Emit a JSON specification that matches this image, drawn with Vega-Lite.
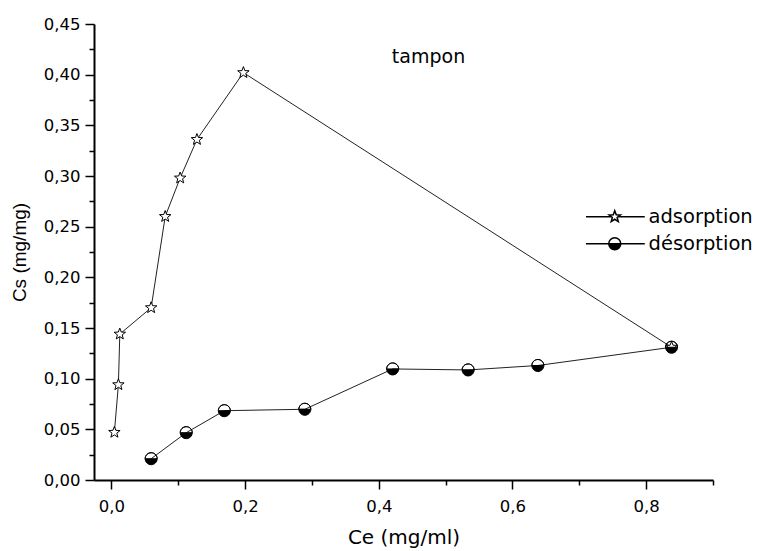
{
  "$schema": "https://vega.github.io/schema/vega-lite/v6.json",
  "width": 619,
  "height": 456,
  "autosize": "none",
  "padding": {"left": 94, "top": 24, "right": 45, "bottom": 71},
  "background": "white",
  "title": {"text": "tampon", "offset": -66, "dx": 25, "baseline": "alphabetic", "font": "DejaVu Sans", "fontSize": 19, "fontWeight": "normal", "color": "black"},
  "data": {
    "values": [
      {"serie": "adsorption", "i": 1, "ce": 0.0045, "cs": 0.047},
      {"serie": "adsorption", "i": 2, "ce": 0.0105, "cs": 0.094},
      {"serie": "adsorption", "i": 3, "ce": 0.0126, "cs": 0.144},
      {"serie": "adsorption", "i": 4, "ce": 0.0595, "cs": 0.170},
      {"serie": "adsorption", "i": 5, "ce": 0.0805, "cs": 0.260},
      {"serie": "adsorption", "i": 6, "ce": 0.1029, "cs": 0.298},
      {"serie": "adsorption", "i": 7, "ce": 0.128, "cs": 0.336},
      {"serie": "adsorption", "i": 8, "ce": 0.1975, "cs": 0.402},
      {"serie": "adsorption", "i": 9, "ce": 0.838, "cs": 0.131},
      {"serie": "désorption", "i": 1, "ce": 0.838, "cs": 0.131},
      {"serie": "désorption", "i": 2, "ce": 0.638, "cs": 0.113},
      {"serie": "désorption", "i": 3, "ce": 0.5337, "cs": 0.1086},
      {"serie": "désorption", "i": 4, "ce": 0.4208, "cs": 0.1096},
      {"serie": "désorption", "i": 5, "ce": 0.2894, "cs": 0.0698},
      {"serie": "désorption", "i": 6, "ce": 0.169, "cs": 0.0684},
      {"serie": "désorption", "i": 7, "ce": 0.112, "cs": 0.0467},
      {"serie": "désorption", "i": 8, "ce": 0.0595, "cs": 0.021}
    ]
  },
  "config": {
    "view": {"stroke": null},
    "axis": {
      "grid": false,
      "domainColor": "black",
      "domainWidth": 2,
      "tickColor": "black",
      "tickWidth": 1.5,
      "labelColor": "black",
      "labelFont": "DejaVu Sans",
      "labelFontSize": 16.5,
      "titleColor": "black",
      "titleFontWeight": "normal",
      "labelOverlap": false,
      "labelFlush": false
    }
  },
  "encoding": {
    "x": {
      "field": "ce",
      "type": "quantitative",
      "scale": {"domain": [-0.026, 0.9], "nice": false, "zero": false},
      "axis": {
        "title": "Ce (mg/ml)",
        "titleFont": "DejaVu Sans",
        "titleFontSize": 20,
        "titlePadding": 13,
        "values": [0, 0.1, 0.2, 0.3, 0.4, 0.5, 0.6, 0.7, 0.8, 0.9],
        "labelExpr": "round(datum.value*10) % 2 == 0 ? replace(format(datum.value, '.1f'), '.', ',') : ''",
        "tickSize": {"condition": {"test": "round(datum.value*10) % 2 == 0", "value": 9}, "value": 5},
        "labelPadding": 9
      }
    },
    "y": {
      "field": "cs",
      "type": "quantitative",
      "scale": {"domain": [0, 0.45], "nice": false},
      "axis": {
        "title": "Cs (mg/mg)",
        "titleFont": "Liberation Sans",
        "titleFontSize": 19,
        "titlePadding": 14,
        "values": [0, 0.025, 0.05, 0.075, 0.1, 0.125, 0.15, 0.175, 0.2, 0.225, 0.25, 0.275, 0.3, 0.325, 0.35, 0.375, 0.4, 0.425, 0.45],
        "labelExpr": "round(datum.value*40) % 2 == 0 ? replace(format(datum.value, '.2f'), '.', ',') : ''",
        "tickSize": {"condition": {"test": "round(datum.value*40) % 2 == 0", "value": 9}, "value": 5},
        "labelPadding": 5
      }
    }
  },
  "layer": [
    {
      "mark": {"type": "line", "stroke": "#222222", "strokeWidth": 1},
      "encoding": {
        "detail": {"field": "serie", "type": "nominal"},
        "order": {"field": "i", "type": "quantitative"}
      }
    },
    {
      "mark": {"type": "point", "filled": true, "stroke": "black", "strokeWidth": 1, "size": 144, "opacity": 1},
      "encoding": {
        "shape": {
          "field": "serie",
          "type": "nominal",
          "scale": {
            "domain": ["adsorption", "désorption"],
            "range": [
              "M0,-1L0.247,-0.34L0.951,-0.309L0.399,0.13L0.588,0.809L0,0.42L-0.588,0.809L-0.399,0.13L-0.951,-0.309L-0.247,-0.34Z",
              "M-1,0A1,1 0 1,1 1,0A1,1 0 1,1 -1,0Z M-1,0L1,0A1,1 0 0,0 -1,0Z"
            ]
          },
          "legend": null
        },
        "fill": {
          "field": "serie",
          "type": "nominal",
          "scale": {"domain": ["adsorption", "désorption"], "range": ["white", "black"]},
          "legend": null
        }
      }
    },
    {
      "transform": [{"filter": "datum.i > 100"}],
      "mark": {"type": "point", "filled": true, "stroke": "black", "strokeWidth": 1, "size": 144, "opacity": 1},
      "encoding": {
        "shape": {
          "field": "serie",
          "type": "nominal",
          "scale": {
            "domain": ["adsorption", "désorption"],
            "range": [
              "M0,-1L0.247,-0.34L0.951,-0.309L0.399,0.13L0.588,0.809L0,0.42L-0.588,0.809L-0.399,0.13L-0.951,-0.309L-0.247,-0.34Z M-4.8,0L-0.56,0 M0.56,0L5,0",
              "M-1,0A1,1 0 1,1 1,0A1,1 0 1,1 -1,0Z M-1,0L1,0A1,1 0 0,0 -1,0Z M-4.8,0L-1,0 M1,0L5,0"
            ]
          },
          "legend": {
            "title": null,
            "orient": "none",
            "legendX": 511,
            "legendY": 183,
            "padding": 0,
            "labelFont": "DejaVu Sans",
            "labelFontSize": 19.5,
            "labelColor": "black",
            "symbolSize": 144,
            "labelOffset": 24,
            "rowPadding": 6
          }
        },
        "fill": {
          "field": "serie",
          "type": "nominal",
          "scale": {"domain": ["adsorption", "désorption"], "range": ["white", "black"]},
          "legend": null
        }
      }
    }
  ],
  "resolve": {"scale": {"shape": "independent", "fill": "independent"}}
}
